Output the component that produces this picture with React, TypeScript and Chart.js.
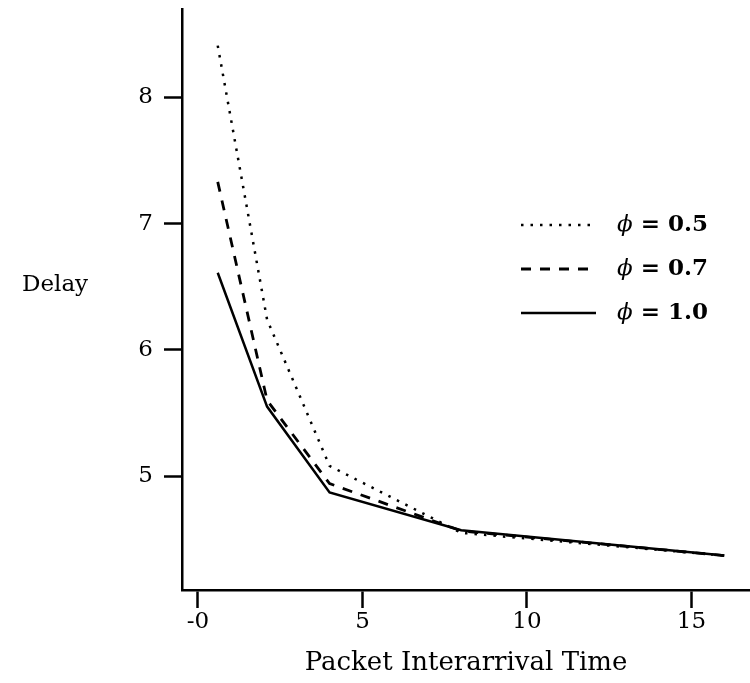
import React, { useEffect, useRef } from "react";
import { Chart, registerables } from "chart.js";

Chart.register(...registerables);

const interarrival = [0.6, 2.1, 4, 8, 16];
const delayPhi05 = [8.41, 6.24, 5.08, 4.55, 4.37];
const delayPhi07 = [7.33, 5.6, 4.94, 4.565, 4.37];
const delayPhi10 = [6.61, 5.55, 4.87, 4.57, 4.37];
const seriesLabels = ["0.5", "0.7", "1.0"];
const xTickValues = [0, 5, 10, 15];
const xTickLabels = ["-0", "5", "10", "15"];
const yTickValues = [5, 6, 7, 8];
const yTickLabels = ["5", "6", "7", "8"];

const FAMILY = "'DejaVu Serif', serif";

const annotatePlugin = {
  id: "annotate",
  afterDraw(chart: any) {
    const ctx = chart.ctx as CanvasRenderingContext2D;
    ctx.save();
    ctx.fillStyle = "#000";
    ctx.textBaseline = "middle";
    ctx.textAlign = "left";
    ctx.font = `23px ${FAMILY}`;
    ctx.fillText("Delay", 22, 285);

    const x0 = 521;
    const x1 = 596;
    const tx = 617;
    const rows = [225, 269, 313];
    chart.data.datasets.forEach((ds: any, i: number) => {
      const y = rows[i];
      ctx.strokeStyle = "#000";
      ctx.lineWidth = ds.borderWidth;
      ctx.setLineDash(ds.borderDash || []);
      ctx.beginPath();
      ctx.moveTo(x0, y);
      ctx.lineTo(x1, y);
      ctx.stroke();
      ctx.setLineDash([]);
      ctx.font = `italic 23px ${FAMILY}`;
      ctx.fillText("\u03D5", tx, y);
      const w = ctx.measureText("\u03D5").width;
      ctx.font = `bold 23px ${FAMILY}`;
      ctx.fillText(" = " + seriesLabels[i], tx + w, y);
    });
    ctx.restore();
  },
};

export default function App() {
  const ref = useRef<HTMLCanvasElement | null>(null);
  useEffect(() => {
    if (!ref.current) return;
    const mk = (vals: number[]) => interarrival.map((x, i) => ({ x, y: vals[i] }));
    const chart = new Chart(ref.current, {
      type: "line",
      data: {
        datasets: [
          {
            label: "phi = 0.5",
            data: mk(delayPhi05),
            borderColor: "#000",
            borderWidth: 2.5,
            borderDash: [2.5, 7],
            pointRadius: 0,
            tension: 0,
            fill: false,
          },
          {
            label: "phi = 0.7",
            data: mk(delayPhi07),
            borderColor: "#000",
            borderWidth: 2.8,
            borderDash: [10, 9],
            pointRadius: 0,
            tension: 0,
            fill: false,
          },
          {
            label: "phi = 1.0",
            data: mk(delayPhi10),
            borderColor: "#000",
            borderWidth: 2.5,
            pointRadius: 0,
            tension: 0,
            fill: false,
          },
        ],
      },
      options: {
        animation: false,
        responsive: false,
        maintainAspectRatio: false,
        layout: { padding: { top: 9, right: 0, left: 0, bottom: 0 } },
        plugins: { legend: { display: false }, tooltip: { enabled: false } },
        scales: {
          x: {
            type: "linear",
            min: -0.486,
            max: 16.78,
            afterFit: (s: any) => {
              s.height = 93;
              s.paddingLeft = 0;
              s.paddingRight = 0;
            },
            afterBuildTicks: (s: any) => {
              s.ticks = xTickValues.map((v) => ({ value: v }));
            },
            ticks: {
              autoSkip: false,
              maxRotation: 0,
              padding: 0,
              color: "#000",
              font: { family: FAMILY, size: 23 },
              callback: (v: any) => {
                const i = xTickValues.indexOf(Number(v));
                return i >= 0 ? xTickLabels[i] : "";
              },
            },
            grid: {
              drawOnChartArea: false,
              drawTicks: true,
              tickLength: 18,
              tickWidth: 2.5,
              tickColor: "#000",
            },
            border: { display: true, color: "#000", width: 2.5 },
            title: {
              display: true,
              text: "Packet Interarrival Time",
              color: "#000",
              font: { family: FAMILY, size: 26 },
              padding: { top: 0, bottom: 4 },
            },
          },
          y: {
            type: "linear",
            min: 4.097,
            max: 8.7,
            afterFit: (s: any) => {
              s.width = 182;
              s.paddingTop = 0;
              s.paddingBottom = 0;
            },
            afterBuildTicks: (s: any) => {
              s.ticks = yTickValues.map((v) => ({ value: v }));
            },
            ticks: {
              autoSkip: false,
              padding: 11,
              color: "#000",
              font: { family: FAMILY, size: 23 },
              callback: (v: any) => {
                const i = yTickValues.indexOf(Number(v));
                return i >= 0 ? yTickLabels[i] : "";
              },
            },
            grid: {
              drawOnChartArea: false,
              drawTicks: true,
              tickLength: 18,
              tickWidth: 2.5,
              tickColor: "#000",
            },
            border: { display: true, color: "#000", width: 2.5 },
          },
        },
      },
      plugins: [annotatePlugin],
    } as any);
    return () => chart.destroy();
  }, []);
  return (
    <div style={{ position: "absolute", left: 0, top: 0, width: 750, height: 683, background: "#fff" }}>
      <canvas ref={ref} width={750} height={683} style={{ width: 750, height: 683, display: "block" }} />
    </div>
  );
}
